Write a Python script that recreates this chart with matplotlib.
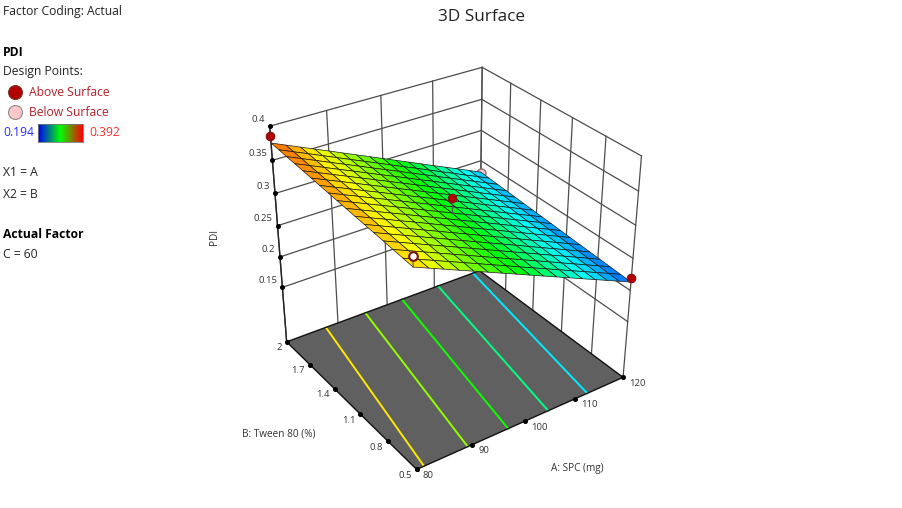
import numpy as np
import matplotlib
matplotlib.use("Agg")
import matplotlib.pyplot as plt
from matplotlib.colors import LinearSegmentedColormap, Normalize
from mpl_toolkits.mplot3d import proj3d

plt.rcParams['font.family'] = ['Open Sans', 'DejaVu Sans']

# axes values
spc = [80, 82.5, 85, 87.5, 90, 92.5, 95, 97.5, 100, 102.5, 105, 107.5, 110, 112.5, 115, 117.5, 120]
tween = [0.5, 0.59375, 0.6875, 0.78125, 0.875, 0.96875, 1.0625, 1.15625, 1.25, 1.34375, 1.4375, 1.53125, 1.625, 1.71875, 1.8125, 1.90625, 2.0]
spc_ticks = [80, 90, 100, 110, 120]
tween_ticks = [0.5, 0.8, 1.1, 1.4, 1.7, 2.0]
tween_labels = ['0.5', '0.8', '1.1', '1.4', '1.7', '2']
pdi_ticks = [0.15, 0.2, 0.25, 0.3, 0.35, 0.4]
pdi_labels = ['0.15', '0.2', '0.25', '0.3', '0.35', '0.4']
pdi_floor = 0.0569

# surface, one row per tween value
pdi = [
    [.3566, .3476, .3387, .3297, .3208, .3118, .3028, .2939, .2849, .2759, .2670, .2580, .2490, .2401, .2311, .2222, .2132],
    [.3578, .3488, .3399, .3309, .3220, .3130, .3040, .2951, .2860, .2770, .2681, .2591, .2501, .2412, .2322, .2233, .2143],
    [.3590, .3500, .3411, .3320, .3231, .3141, .3051, .2962, .2872, .2782, .2693, .2603, .2513, .2423, .2333, .2244, .2154],
    [.3602, .3512, .3422, .3332, .3243, .3153, .3063, .2974, .2883, .2793, .2704, .2614, .2524, .2435, .2345, .2255, .2165],
    [.3614, .3523, .3434, .3344, .3255, .3165, .3074, .2985, .2895, .2805, .2716, .2625, .2535, .2446, .2356, .2266, .2176],
    [.3625, .3535, .3446, .3356, .3266, .3176, .3086, .2997, .2906, .2816, .2727, .2637, .2546, .2457, .2367, .2278, .2187],
    [.3637, .3547, .3458, .3367, .3278, .3188, .3097, .3008, .2918, .2828, .2738, .2648, .2558, .2468, .2378, .2289, .2198],
    [.3649, .3559, .3469, .3379, .3290, .3199, .3109, .3020, .2929, .2839, .2750, .2659, .2569, .2480, .2389, .2300, .2209],
    [.3661, .3571, .3481, .3391, .3301, .3211, .3121, .3031, .2941, .2850, .2761, .2671, .2580, .2491, .2400, .2311, .2221],
    [.3673, .3582, .3493, .3403, .3313, .3223, .3132, .3043, .2952, .2862, .2772, .2682, .2591, .2502, .2411, .2322, .2232],
    [.3685, .3594, .3505, .3414, .3325, .3234, .3144, .3054, .2964, .2873, .2784, .2693, .2603, .2513, .2423, .2333, .2243],
    [.3697, .3606, .3517, .3426, .3336, .3246, .3155, .3066, .2975, .2885, .2795, .2704, .2614, .2524, .2434, .2344, .2254],
    [.3709, .3618, .3528, .3438, .3348, .3257, .3167, .3077, .2987, .2896, .2806, .2716, .2625, .2535, .2445, .2355, .2265],
    [.3720, .3630, .3540, .3449, .3360, .3269, .3178, .3089, .2998, .2908, .2818, .2727, .2636, .2547, .2456, .2366, .2276],
    [.3732, .3642, .3552, .3461, .3371, .3281, .3190, .3100, .3010, .2919, .2829, .2738, .2648, .2558, .2467, .2378, .2287],
    [.3744, .3653, .3564, .3473, .3383, .3292, .3202, .3112, .3021, .2930, .2841, .2750, .2659, .2569, .2478, .2389, .2298],
    [.3756, .3665, .3575, .3484, .3395, .3304, .3213, .3123, .3033, .2942, .2852, .2761, .2670, .2580, .2490, .2400, .2309],
]

# contour lines on the floor, spc where each one meets the tween = 0.5 and tween = 2 edges
contour_levels = [.352, .324, .296, .268, .240]
contour_spc_low = [81.3, 89.2, 96.8, 104.6, 112.5]
contour_spc_high = [87.6, 95.5, 103.1, 110.8, 118.5]

# design points
above_a, above_b, above_z, above_s = [80, 120, 100], [2, 0.5, 1.25], [.3858, .2195, .3166], [.3756, .2132, .2941]
white_a, white_b, white_z, white_s = [80], [0.5], [.3713], [.3566]
below_a, below_b, below_z = [120], [2], [.2293]
pdi_min, pdi_max = 0.194, 0.392

rainbow = LinearSegmentedColormap.from_list('rb', [(0, '#0000ff'), (.25, '#00ffff'), (.5, '#00ff00'), (.78, '#ffff00'), (1, '#ff0000')])
norm = Normalize(pdi_min, pdi_max)
legend_bar = LinearSegmentedColormap.from_list('lb', ['#0000ff', '#00ff00', '#ff0000'])

W, H = 903, 508
S = 500.0
cx, cy = 444.8, 262.2
fig = plt.figure(figsize=(W / 100, H / 100), dpi=100)
ax = fig.add_axes([(cx - S / 2) / W, (H - cy - S / 2) / H, S / W, S / H], projection='3d', computed_zorder=False)
ax.set_axis_off()

A, B = np.meshgrid(spc, tween)
Z = np.array(pdi)
a0, a1 = spc[0], spc[-1]
b0, b1 = tween[0], tween[-1]
top = pdi_ticks[-1]

# walls
grid = dict(color='#4d4d4d', lw=0.9, zorder=1)
for a in spc_ticks:
    ax.plot([a, a], [b1, b1], [pdi_floor, top], **grid)
for b in tween_ticks:
    ax.plot([a1, a1], [b, b], [pdi_floor, top], **grid)
for z in pdi_ticks:
    ax.plot([a0, a1], [b1, b1], [z, z], **grid)
    ax.plot([a1, a1], [b0, b1], [z, z], **grid)

# floor + contours
ax.plot_surface(np.array([[a0, a1], [a0, a1]]), np.array([[b0, b0], [b1, b1]]), np.full((2, 2), pdi_floor),
                color='#606060', shade=False, linewidth=0, zorder=2)
for lev, lo, hi in zip(contour_levels, contour_spc_low, contour_spc_high):
    ax.plot([lo, hi], [b0, b1], [pdi_floor, pdi_floor], color=rainbow(norm(lev)), lw=1.4, zorder=3)
for xs, ys in [([a0, a1], [b0, b0]), ([a1, a1], [b0, b1]), ([a1, a0], [b1, b1]), ([a0, a0], [b1, b0])]:
    ax.plot(xs, ys, [pdi_floor, pdi_floor], color='#111111', lw=1.0, zorder=4)
ax.plot([a0, a0], [b1, b1], [pdi_floor, top], color='#222222', lw=1.0, zorder=4)

# point hidden behind the surface
ax.plot(below_a, below_b, below_z, 'o', ms=6.5, mfc='#ffc8c8', mec='#8a6a6a', mew=1, zorder=5)

ax.plot_surface(A, B, Z, cmap=rainbow, norm=norm, rstride=1, cstride=1, shade=False,
                edgecolor='#1a1a1a', linewidth=0.5, antialiased=True, zorder=6)

# design points with drop lines to the surface
for a, b, z, s in zip(above_a, above_b, above_z, above_s):
    ax.plot([a, a], [b, b], [s, z], color='#555555', lw=0.8, zorder=7)
for a, b, z, s in zip(white_a, white_b, white_z, white_s):
    ax.plot([a, a], [b, b], [s, z], color='#555555', lw=0.8, zorder=7)
ax.plot(above_a, above_b, above_z, 'o', ms=6.2, mfc='#b30000', mec='#7a1010', mew=0.7, zorder=8)
ax.plot(white_a, white_b, white_z, 'o', ms=6.2, mfc='white', mec='#7a1010', mew=1.5, zorder=8)

# tick dots
ax.plot(spc_ticks, [b0] * len(spc_ticks), [pdi_floor] * len(spc_ticks), 'o', ms=2.6, color='black', zorder=9)
ax.plot([a0] * len(tween_ticks), tween_ticks, [pdi_floor] * len(tween_ticks), 'o', ms=2.6, color='black', zorder=9)
ax.plot([a0] * len(pdi_ticks), [b1] * len(pdi_ticks), pdi_ticks, 'o', ms=2.6, color='black', zorder=9)

ax.set_xlim(a0, a1)
ax.set_ylim(b0, b1)
ax.set_zlim(pdi_floor, top)
ax.view_init(31.1508, -124.6441)
ax.set_proj_type('persp', focal_length=0.4887)
ax.set_box_aspect((1, 0.9958, 1.0018), zoom=0.8542)
ax.apply_aspect()


def tick_label(x, y, z, text, dx, dy, ha):
    u, v, _ = proj3d.proj_transform(x, y, z, ax.get_proj())
    ax.annotate(text, (u, v), xytext=(dx, dy), textcoords='offset pixels', ha=ha, va='center',
                fontsize=6.8, color='#333333', annotation_clip=False)


for z, t in zip(pdi_ticks, pdi_labels):
    tick_label(a0, b1, z, t, -5, 7, 'right')
for a in spc_ticks:
    tick_label(a, b0, pdi_floor, str(a), 6, -6, 'left')
for b, t in zip(tween_ticks, tween_labels):
    tick_label(a0, b, pdi_floor, t, -5, -6, 'right')

# overlay in pixel coordinates for the side panel and titles
ov = fig.add_axes([0, 0, 1, 1])
ov.set_xlim(0, W)
ov.set_ylim(H, 0)
ov.axis('off')
ov.patch.set_alpha(0)


def txt(x, y, s, color='#222222', size=8.7, **kw):
    ov.text(x, y, s, color=color, fontsize=size, va='center', **kw)


txt(3, 11, 'Factor Coding: Actual')
txt(3, 52, 'PDI', fontweight='bold', color='black')
txt(3, 72, 'Design Points:')
txt(29, 92, 'Above Surface', color='#b5212a')
txt(29, 112, 'Below Surface', color='#b5212a')
txt(3, 132, '0.194', color='#2a2aff')
txt(89, 132, '0.392', color='#ff2a2a')
txt(3, 173, 'X1 = A')
txt(3, 194, 'X2 = B')
txt(3, 234, 'Actual Factor', fontweight='bold', color='black')
txt(3, 254, 'C = 60')
ov.plot([15], [92], 'o', ms=10, mfc='#b30000', mec='#7a3030', mew=0.8)
ov.plot([15], [112], 'o', ms=10, mfc='#ffc8c8', mec='#8a8a8a', mew=0.8)

ov.text(482, 17, '3D Surface', fontsize=12.3, color='#222222', ha='center', va='center')
ov.text(577, 468, 'A: SPC (mg)', fontsize=7.2, color='#333333', ha='center', va='center')
ov.text(279, 434, 'B: Tween 80 (%)', fontsize=7.2, color='#333333', ha='center', va='center')
ov.text(215, 237, 'PDI', fontsize=7.2, color='#333333', ha='center', va='center', rotation=90)

cb = fig.add_axes([38 / W, 1 - 142 / H, 45 / W, 18 / H])
cb.imshow(np.linspace(0, 1, 90).reshape(1, -1), cmap=legend_bar, aspect='auto')
cb.set_xticks([])
cb.set_yticks([])
for sp in cb.spines.values():
    sp.set_color('#777777')
    sp.set_linewidth(0.6)

fig.savefig('out.png', dpi=100)
